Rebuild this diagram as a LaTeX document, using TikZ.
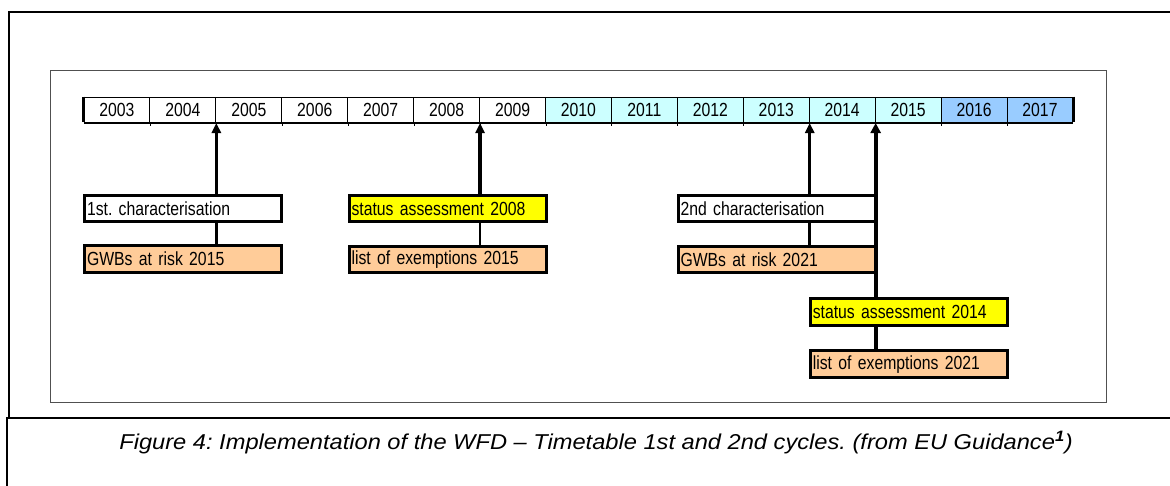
\documentclass[tikz,border=0pt]{standalone}
\usepackage{fontspec}
\setmainfont{Liberation Sans}
\newfontfamily\nar[FakeStretch=0.83,WordSpace=0.7]{Liberation Sans}
\newfontfamily\capf[FakeStretch=1.1,Ligatures=TeX]{Liberation Sans}
\usetikzlibrary{arrows.meta}
\definecolor{cyanl}{HTML}{CCFFFF}
\definecolor{bluel}{HTML}{99CCFF}
\definecolor{orng}{HTML}{FFCC99}
\definecolor{yelw}{HTML}{FFFF00}
\definecolor{frm}{HTML}{505050}
\frenchspacing
\begin{document}
\begin{tikzpicture}[x=1pt,y=-1pt,
  cell/.style={draw, line width=1pt, minimum width=65.93pt, minimum height=25.5pt, inner sep=0pt, font=\nar\fontsize{19}{21}\selectfont},
  box/.style={draw, line width=3pt, minimum height=26.5pt, text width=192pt, inner xsep=2.5pt, inner ysep=0pt, align=left, font=\nar\fontsize{19}{21}\selectfont},
  arr/.style={line width=3.5pt, -{Triangle[length=10pt,width=9pt]}},
  lk/.style={line width=2.5pt},
  thk/.style={line width=4pt}]
\useasboundingbox (0,0) rectangle (1170,485);
% frames
\draw[line width=2pt] (8.7,418) -- (8.7,12) -- (1172,12);
\draw[line width=2pt] (6.7,487) -- (6.7,418) -- (1172,418);
\draw[frm, line width=1.5pt] (50.7,70.7) rectangle (1106.7,402.7);
% timeline
\foreach \i in {0,...,14}{
  \pgfmathtruncatemacro{\yr}{2003+\i}
  \ifnum\i<7 \def\col{white}\else\ifnum\i<13 \def\col{cyanl}\else\def\col{bluel}\fi\fi
  \node[cell, fill=\col] (y\yr) at ({84+65.93*(\i+0.5)},109.75) {\yr};
}
\foreach \yr in {2003,...,2016}{
  \draw[line width=1pt] (y\yr.south east) -- ++(0,3);
}
\draw[line width=2.5pt] (y2003.south west) -- (y2017.south east);
\draw[line width=3pt] (y2003.north west) -- ([yshift=1pt]y2003.south west);
\draw[line width=3pt] (y2017.north east) -- ([yshift=1pt]y2017.south east);
% boxes
\node[box, fill=white] (c1) at (183,208.7) {1st. characterisation};
\node[box, fill=orng] (g1) at (183,259.2) {GWBs at risk 2015};
\node[box, fill=yelw] (s1) at (447.5,208.7) {status assessment 2008};
\node[box, fill=orng] (l1) at (447.5,259.5) {list of exemptions 2015};
\node[box, fill=white] (c2) at (776.5,208.7) {2nd characterisation};
\node[box, fill=orng] (g2) at (776.5,259.5) {GWBs at risk 2021};
\node[box, fill=yelw] (s2) at (908.8,312) {status assessment 2014};
\node[box, fill=orng] (l2) at (908.8,364.2) {list of exemptions 2021};
% connectors
\draw[arr] (c1.north -| y2004.south east) -- (y2004.south east);
\draw[lk] (c1.south -| y2004.south east) -- (g1.north -| y2004.south east);
\draw[arr] (s1.north -| y2008.south east) -- (y2008.south east);
\draw[lk] (s1.south -| y2008.south east) -- (l1.north -| y2008.south east);
\draw[arr] (c2.north -| y2013.south east) -- (y2013.south east);
\draw[lk] (c2.south -| y2013.south east) -- (g2.north -| y2013.south east);
\draw[thk, -{Triangle[length=10pt,width=10pt]}] (s2.north -| y2014.south east) -- (y2014.south east);
\draw[thk] (s2.south -| y2014.south east) -- (l2.north -| y2014.south east);
% caption
\node[anchor=base, inner sep=0pt, font=\capf\fontsize{21.5}{25}\selectfont\itshape] (cap) at (596,449)
  {Figure 4: Implementation of the WFD – Timetable 1st and 2nd cycles. (from EU Guidance\textsuperscript{\bfseries 1})};
\end{tikzpicture}
\end{document}
